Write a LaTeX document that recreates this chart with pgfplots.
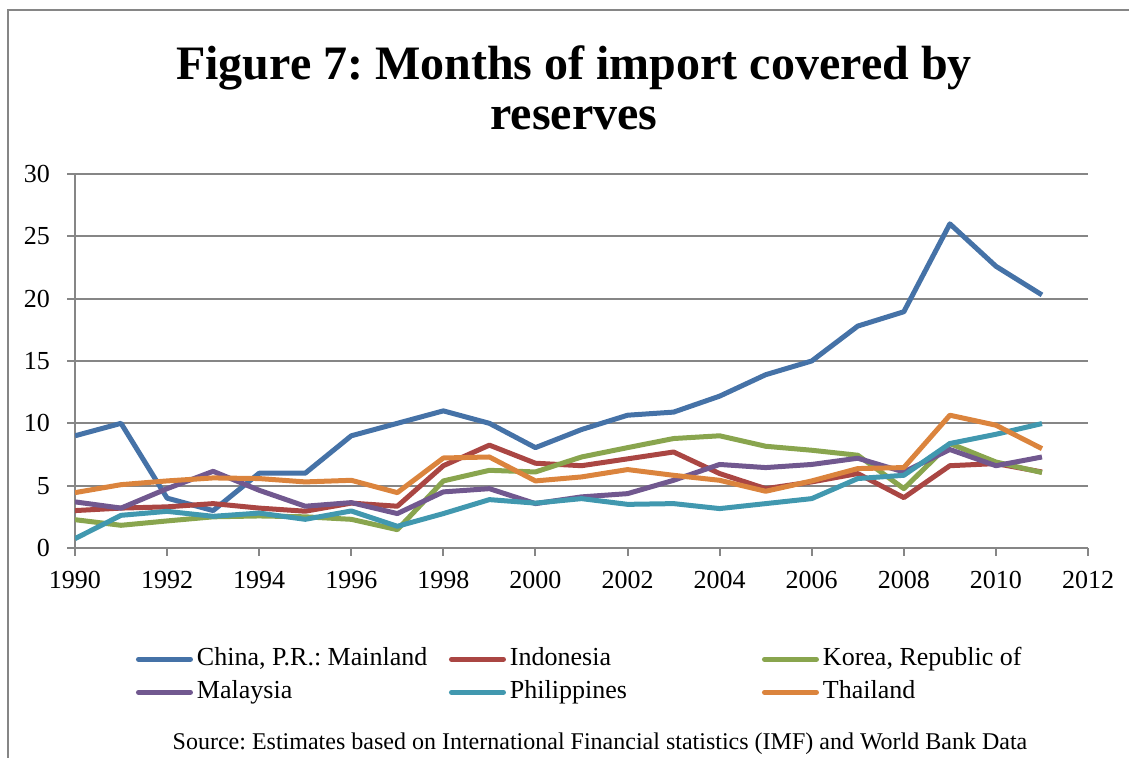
\documentclass[border=0pt]{standalone}
\usepackage{fontspec}
\setmainfont{Liberation Serif}
\usepackage{pgfplots}
\pgfplotsset{compat=1.18}
\frenchspacing
\definecolor{cChina}{HTML}{4572A7}
\definecolor{cIndo}{HTML}{AA4643}
\definecolor{cKorea}{HTML}{89A54E}
\definecolor{cMalay}{HTML}{71588F}
\definecolor{cPhil}{HTML}{4198AF}
\definecolor{cThai}{HTML}{DB843D}
\definecolor{axgray}{HTML}{868686}
\begin{document}
\begin{tikzpicture}[x=1pt,y=1pt]
\path[use as bounding box] (0,0) rectangle (564.5,379);
\draw[axgray, line width=0.8pt] (4,0) -- (4,374) -- (564.5,374);
\node[font=\fontsize{24}{25}\selectfont\bfseries, anchor=base] at (287,339) {Figure 7: Months of import covered by};
\node[font=\fontsize{24}{25}\selectfont\bfseries, anchor=base] at (287,314) {reserves};
\begin{axis}[
  at={(37.5pt,105pt)}, anchor=south west,
  scale only axis, width=506.5pt, height=187pt,
  xmin=1990, xmax=2012, ymin=0, ymax=30,
  xtick={1990,1992,...,2012}, ytick={0,5,...,30},
  axis x line=bottom, axis y line=left,
  axis line style={axgray, line width=1pt, -},
  tick style={axgray, line width=1pt},
  major tick length=4pt,
  tick align=outside,
  ymajorgrids, grid style={axgray, line width=1pt},
  xticklabel style={/pgf/number format/1000 sep={}, yshift=-4pt},
  yticklabel style={xshift=-5pt},
  /pgf/number format/assume math mode=true,
  tick label style={font=\fontsize{13}{15}\selectfont},
  every axis plot/.append style={line width=2.5pt, line join=round, mark=none},
  legend image code/.code={\draw[#1, line width=2.5pt, line cap=round] (0pt,0pt) -- (26pt,0pt);},
  legend columns=3,
  legend cell align=left,
  legend style={at={(rel axis cs:0.0602,-0.2654)}, anchor=north west, draw=none,
     inner sep=0pt, outer sep=0pt, column sep=0pt, row sep=4.5pt,
     font=\fontsize{13}{15}\selectfont,
     nodes={inner sep=0pt, text height=9pt, text depth=3pt}},
]
\addplot[cChina] coordinates {(1990,9.0)(1991,10.0)(1992,4.0)(1993,3.0)(1994,6.0)(1995,6.0)(1996,9.0)(1997,10.0)(1998,11.0)(1999,10.0)(2000,8.05)(2001,9.5)(2002,10.65)(2003,10.9)(2004,12.18)(2005,13.9)(2006,15.0)(2007,17.8)(2008,18.95)(2009,26.0)(2010,22.6)(2011,20.3)};
\addlegendentry{\hspace{2pt}\makebox[126pt][l]{China, P.R.: Mainland}}
\addplot[cIndo] coordinates {(1990,3.0)(1991,3.2)(1992,3.3)(1993,3.56)(1994,3.2)(1995,2.95)(1996,3.6)(1997,3.35)(1998,6.6)(1999,8.25)(2000,6.8)(2001,6.6)(2002,7.15)(2003,7.7)(2004,5.97)(2005,4.76)(2006,5.3)(2007,5.97)(2008,4.04)(2009,6.6)(2010,6.77)(2011,6.1)};
\addlegendentry{\hspace{2pt}\makebox[126pt][l]{Indonesia}}
\addplot[cKorea] coordinates {(1990,2.27)(1991,1.82)(1992,2.17)(1993,2.5)(1994,2.57)(1995,2.5)(1996,2.3)(1997,1.47)(1998,5.38)(1999,6.23)(2000,6.1)(2001,7.3)(2002,8.05)(2003,8.78)(2004,9.0)(2005,8.16)(2006,7.84)(2007,7.44)(2008,4.76)(2009,8.38)(2010,6.9)(2011,6.05)};
\addlegendentry{\hspace{2pt}\makebox[126pt][l]{Korea, Republic of}}
\addplot[cMalay] coordinates {(1990,3.7)(1991,3.2)(1992,4.76)(1993,6.15)(1994,4.63)(1995,3.35)(1996,3.64)(1997,2.76)(1998,4.5)(1999,4.76)(2000,3.56)(2001,4.1)(2002,4.36)(2003,5.43)(2004,6.7)(2005,6.45)(2006,6.7)(2007,7.2)(2008,6.1)(2009,7.9)(2010,6.6)(2011,7.3)};
\addlegendentry{\hspace{2pt}\makebox[126pt][l]{Malaysia}}
\addplot[cPhil] coordinates {(1990,0.75)(1991,2.62)(1992,2.94)(1993,2.54)(1994,2.8)(1995,2.3)(1996,2.97)(1997,1.74)(1998,2.76)(1999,3.88)(2000,3.6)(2001,3.96)(2002,3.5)(2003,3.56)(2004,3.16)(2005,3.56)(2006,3.96)(2007,5.57)(2008,5.83)(2009,8.38)(2010,9.12)(2011,9.98)};
\addlegendentry{\hspace{2pt}\makebox[126pt][l]{Philippines}}
\addplot[cThai] coordinates {(1990,4.44)(1991,5.08)(1992,5.38)(1993,5.62)(1994,5.57)(1995,5.3)(1996,5.43)(1997,4.44)(1998,7.22)(1999,7.3)(2000,5.38)(2001,5.7)(2002,6.29)(2003,5.83)(2004,5.43)(2005,4.55)(2006,5.38)(2007,6.37)(2008,6.45)(2009,10.65)(2010,9.85)(2011,7.97)};
\addlegendentry{\hspace{2pt}\makebox[126pt][l]{Thailand}}
\end{axis}
\node[font=\fontsize{12}{14}\selectfont, anchor=base] at (300,4) {Source: Estimates based on International Financial statistics (IMF) and World Bank Data};
\end{tikzpicture}
\end{document}
